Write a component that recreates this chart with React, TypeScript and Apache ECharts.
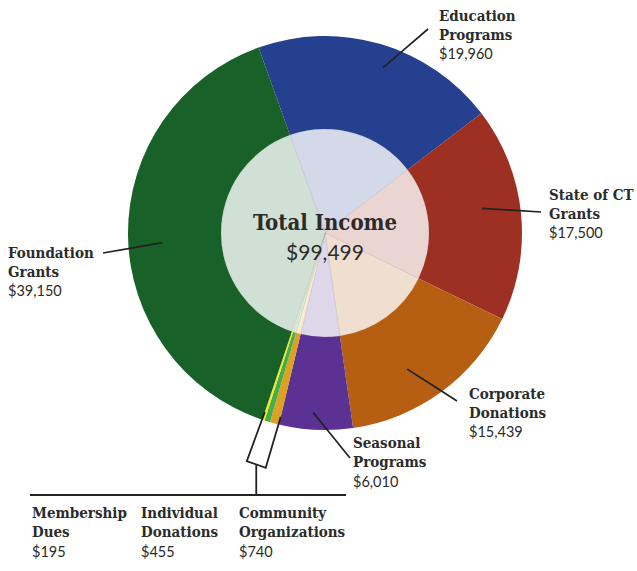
import React, { useEffect, useRef } from "react";
import * as echarts from "echarts";

const categories = [
  "Education\nPrograms",
  "State of CT\nGrants",
  "Corporate\nDonations",
  "Seasonal\nPrograms",
  "Community\nOrganizations",
  "Individual\nDonations",
  "Membership\nDues",
  "Foundation\nGrants",
];
const values = [19960, 17500, 15439, 6010, 740, 455, 195, 39150];
const centerTitle = "Total Income";
const centerValue = "$99,499";

const colors = ["#24408E", "#9D2F23", "#B65F12", "#5B3193", "#DCA023", "#45AE4A", "#F3EA1C", "#18622A"];

// layout (pixels)
const CX = 325;
const CY = 233;
const R_IN = 104;
const R_OUT = 197;
const START = 109.7;
const labelPos = [[439, 6], [549, 185], [469, 384], [353, 433.5], [239, 503.5], [141, 503.5], [32, 503.5], [8, 243]];
const lineEnd = [[-11, 23], [-8, 27], [-12, 17], [-3, 24.5], null, null, null, [95, 10]];
const lineStartR = [175, 159, 159, 180, 0, 0, 0, 163];
const lineStartFrac = [0.54, 0.45, 0.59, 0.55, 0.5, 0.5, 0.5, 0.48];
const smallGroup = [4, 5, 6];

const SERIF = '"DejaVu Serif Condensed", "DejaVu Serif", serif';
const SANS = 'Lato, "Open Sans", sans-serif';
const INK = "#2b2b2b";

function tint(hex: string, k: number) {
  const n = parseInt(hex.slice(1), 16);
  const r = (n >> 16) & 255, g = (n >> 8) & 255, b = n & 255;
  const m = (c: number) => Math.round(c + (255 - c) * k);
  return `rgb(${m(r)},${m(g)},${m(b)})`;
}

const total = values.reduce((a, b) => a + b, 0);
function pointAt(frac: number, r: number): [number, number] {
  const th = ((START - frac * 360) * Math.PI) / 180;
  return [CX + r * Math.cos(th), CY - r * Math.sin(th)];
}
function cumBefore(i: number) {
  let s = 0;
  for (let k = 0; k < i; k++) s += values[k];
  return s / total;
}

export default function App() {
  const ref = useRef<HTMLDivElement>(null);
  useEffect(() => {
    const chart = echarts.init(ref.current!, null, { renderer: "svg" });

    const outerData = categories.map((name, i) => ({
      name,
      value: values[i],
      itemStyle: { color: colors[i] },
    }));
    const innerData = categories.map((name, i) => ({
      name,
      value: values[i],
      itemStyle: { color: tint(colors[i], 0.8) },
    }));
    const labelData = categories.map((name, i) => ({
      name,
      value: values[i],
      labelLine: { show: !smallGroup.includes(i) },
    }));

    // bracket for the small slices
    const gStart = cumBefore(smallGroup[0]);
    const gEnd = cumBefore(smallGroup[smallGroup.length - 1] + 1);
    const tr = pointAt(gStart, 189);
    const tl = pointAt(gEnd, 189);
    const bl: [number, number] = [tl[0] - 18, tl[1] + 49];
    const br: [number, number] = [tr[0] - 15, tr[1] + 51];
    const stemX = (bl[0] + br[0]) / 2;
    const stemY = (bl[1] + br[1]) / 2;
    const baseY = 495;

    const common = {
      type: "pie",
      center: [CX, CY],
      startAngle: START,
      clockwise: true,
      silent: true,
      avoidLabelOverlap: false,
    };

    chart.setOption({
      animation: false,
      series: [
        {
          ...common,
          radius: [0, R_IN],
          itemStyle: { borderColor: "rgba(120,120,120,0.25)", borderWidth: 0.6 },
          label: { show: false },
          labelLine: { show: false },
          data: innerData,
        },
        {
          ...common,
          radius: [R_IN, R_OUT],
          label: { show: false },
          labelLine: { show: false },
          data: outerData,
        },
        {
          ...common,
          z: 6,
          radius: [R_IN, R_OUT],
          itemStyle: { color: "rgba(0,0,0,0)" },
          label: {
            show: true,
            position: "outside",
            formatter: (p: any) =>
              p.name
                .split("\n")
                .map((s: string) => `{n|${s}}`)
                .join("\n") + `\n{v|$${Number(p.value).toLocaleString("en-US")}}`,
            rich: {
              n: { fontFamily: SERIF, fontWeight: "bold", fontSize: 15, lineHeight: 19, color: INK },
              v: { fontFamily: SANS, fontSize: 14.5, lineHeight: 19, color: INK },
            },
          },
          labelLine: { show: true, lineStyle: { color: "#222", width: 1.7 } },
          labelLayout: (params: any) => {
            const i = params.dataIndex;
            const [x, y] = labelPos[i];
            const res: any = { x, y, align: "left", verticalAlign: "top" };
            const off = lineEnd[i];
            if (off) {
              const f = cumBefore(i) + (values[i] / total) * lineStartFrac[i];
              const s = pointAt(f, lineStartR[i]);
              const e = [x + off[0], y + off[1]];
              res.labelLinePoints = [s, [(s[0] + e[0]) / 2, (s[1] + e[1]) / 2], e];
            }
            return res;
          },
          data: labelData,
        },
      ],
      graphic: [
        {
          type: "text",
          z: 20,
          x: CX,
          y: 222,
          style: {
            text: centerTitle,
            fill: INK,
            font: `bold 22px ${SERIF}`,
            textAlign: "center",
            textVerticalAlign: "middle",
          },
        },
        {
          type: "text",
          z: 20,
          x: CX,
          y: 251,
          style: {
            text: centerValue,
            fill: INK,
            font: `21px ${SANS}`,
            textAlign: "center",
            textVerticalAlign: "middle",
          },
        },
        {
          type: "polyline",
          z: 20,
          shape: { points: [tl, bl, br, tr] },
          style: { stroke: "#222", lineWidth: 1.8, fill: "none" },
        },
        {
          type: "line",
          z: 20,
          shape: { x1: stemX, y1: stemY, x2: stemX, y2: baseY },
          style: { stroke: "#222", lineWidth: 1.8 },
        },
        {
          type: "line",
          z: 20,
          shape: { x1: 30, y1: baseY, x2: 346, y2: baseY },
          style: { stroke: "#222", lineWidth: 1.8 },
        },
      ],
    });
    return () => chart.dispose();
  }, []);
  return (
    <div
      ref={ref}
      style={{ position: "fixed", left: 0, top: 0, width: 637, height: 571, background: "#fff" }}
    />
  );
}
